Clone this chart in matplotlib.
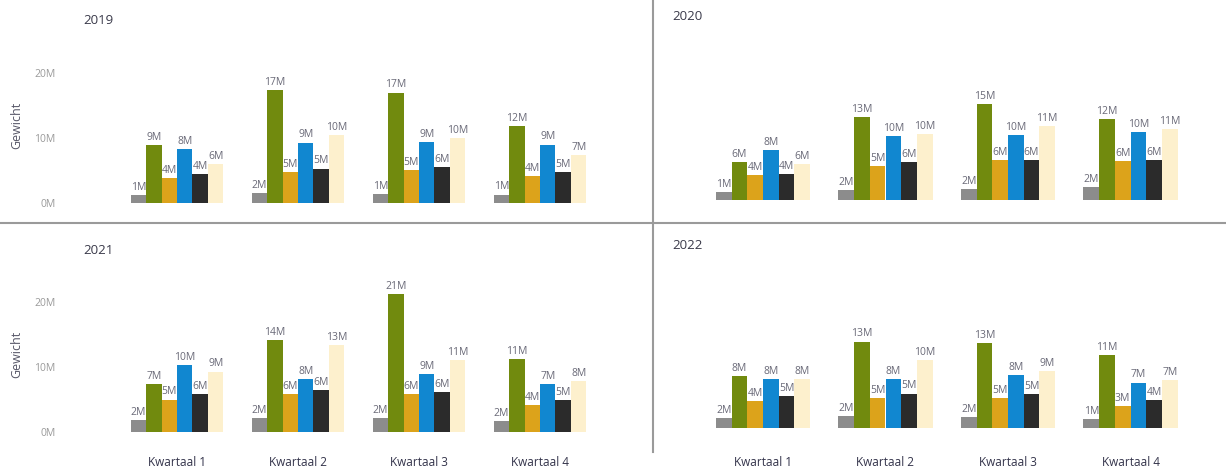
import matplotlib
matplotlib.use("Agg")
import matplotlib.pyplot as plt
import numpy as np

plt.rcParams['font.family'] = ['Open Sans', 'DejaVu Sans']

quarters = ["Kwartaal 1", "Kwartaal 2", "Kwartaal 3", "Kwartaal 4"]
years = ["2019", "2020", "2021", "2022"]
series = ["Reeks A", "Reeks B", "Reeks C", "Reeks D", "Reeks E", "Reeks F"]
colors = ["#8c8c8c", "#718a0e", "#dca31b", "#1187d0", "#2b2b2b", "#fdf0cd"]

# values in millions, per series, per quarter
v2019 = {
    "Reeks A": [1.2, 1.6, 1.4, 1.3],
    "Reeks B": [8.9, 17.4, 17.0, 11.8],
    "Reeks C": [3.8, 4.8, 5.1, 4.2],
    "Reeks D": [8.3, 9.3, 9.4, 9.0],
    "Reeks E": [4.5, 5.3, 5.5, 4.8],
    "Reeks F": [6.0, 10.4, 10.0, 7.4],
}
v2020 = {
    "Reeks A": [1.2, 1.5, 1.7, 2.0],
    "Reeks B": [5.8, 12.8, 14.8, 12.4],
    "Reeks C": [3.8, 5.2, 6.1, 6.0],
    "Reeks D": [7.7, 9.9, 10.0, 10.4],
    "Reeks E": [4.0, 5.8, 6.1, 6.1],
    "Reeks F": [5.6, 10.2, 11.4, 10.9],
}
v2021 = {
    "Reeks A": [1.9, 2.2, 2.2, 1.7],
    "Reeks B": [7.4, 14.2, 21.2, 11.2],
    "Reeks C": [5.0, 5.9, 5.8, 4.1],
    "Reeks D": [10.3, 8.2, 8.9, 7.4],
    "Reeks E": [5.8, 6.4, 6.2, 4.9],
    "Reeks F": [9.3, 13.4, 11.1, 7.8],
}
v2022 = {
    "Reeks A": [1.6, 1.8, 1.7, 1.4],
    "Reeks B": [8.0, 13.3, 13.1, 11.2],
    "Reeks C": [4.1, 4.6, 4.6, 3.4],
    "Reeks D": [7.6, 7.6, 8.2, 7.0],
    "Reeks E": [4.9, 5.3, 5.2, 4.3],
    "Reeks F": [7.6, 10.4, 8.8, 7.4],
}
yticks = [0, 10, 20]
ytick_labels = ["0M", "10M", "20M"]

W, H = 1226, 470
fig = plt.figure(figsize=(W / 100, H / 100), dpi=100)

PXM = 6.5  # pixels per million
YMAX = 24

def add_panel(left_px, unit_px, base_px):
    width = unit_px * 4
    height = PXM * YMAX
    bottom = H - base_px
    ax = fig.add_axes([left_px / W, bottom / H, width / W, height / H])
    return ax

panels = [
    ("2019", v2019, add_panel(177 - 60.5, 121, 203), True, False, (83, 20), 0),
    ("2020", v2020, add_panel(763 - 61.25, 122.5, 200), False, False, (672, 17), 0),
    ("2021", v2021, add_panel(177 - 60.5, 121, 432), True, True, (83, 250), 17),
    ("2022", v2022, add_panel(763 - 61.25, 122.5, 428), False, True, (672, 245), 20),
]

bw = 0.128
x = np.arange(len(quarters))
for year, data, ax, show_y, show_x, tpos, xpad in panels:
    for i, s in enumerate(series):
        offs = (i - 2.5) * bw
        vals = data[s]
        ax.bar(x + offs, vals, width=bw, color=colors[i], linewidth=0)
        for xi, v in zip(x + offs, vals):
            ax.annotate(f"{int(round(v))}M", (xi, v), xytext=(0, 1.5),
                        textcoords="offset points", ha="center", va="bottom",
                        fontsize=7.5, color="#6a6a78")
    ax.set_xlim(-0.5, 3.5)
    ax.set_ylim(0, YMAX)
    for sp in ax.spines.values():
        sp.set_visible(False)
    ax.tick_params(length=0)
    ax.set_facecolor("none")
    if show_y:
        ax.set_yticks(yticks)
        ax.set_yticklabels(ytick_labels, fontsize=7.5, color="#9a9a9a")
        ax.tick_params(axis="y", pad=44)
        ax.set_ylabel("Gewicht", fontsize=9, color="#555566", labelpad=8)
    else:
        ax.set_yticks([])
    if show_x:
        ax.set_xticks(x)
        ax.set_xticklabels(quarters, fontsize=8.5, color="#33334a")
        ax.tick_params(axis="x", pad=xpad)
    else:
        ax.set_xticks([])
    fig.text(tpos[0] / W, 1 - tpos[1] / H, year, fontsize=9.5, color="#3a3a4a",
             ha="left", va="center")

# divider lines
fig.add_artist(plt.Line2D([0, 1], [1 - 223 / H, 1 - 223 / H], transform=fig.transFigure,
                          color="#9a9a9a", linewidth=1.5))
fig.add_artist(plt.Line2D([653 / W, 653 / W], [1, 1 - 452 / H], transform=fig.transFigure,
                          color="#9a9a9a", linewidth=1.5))

fig.savefig("out.png", dpi=100, facecolor="white")
